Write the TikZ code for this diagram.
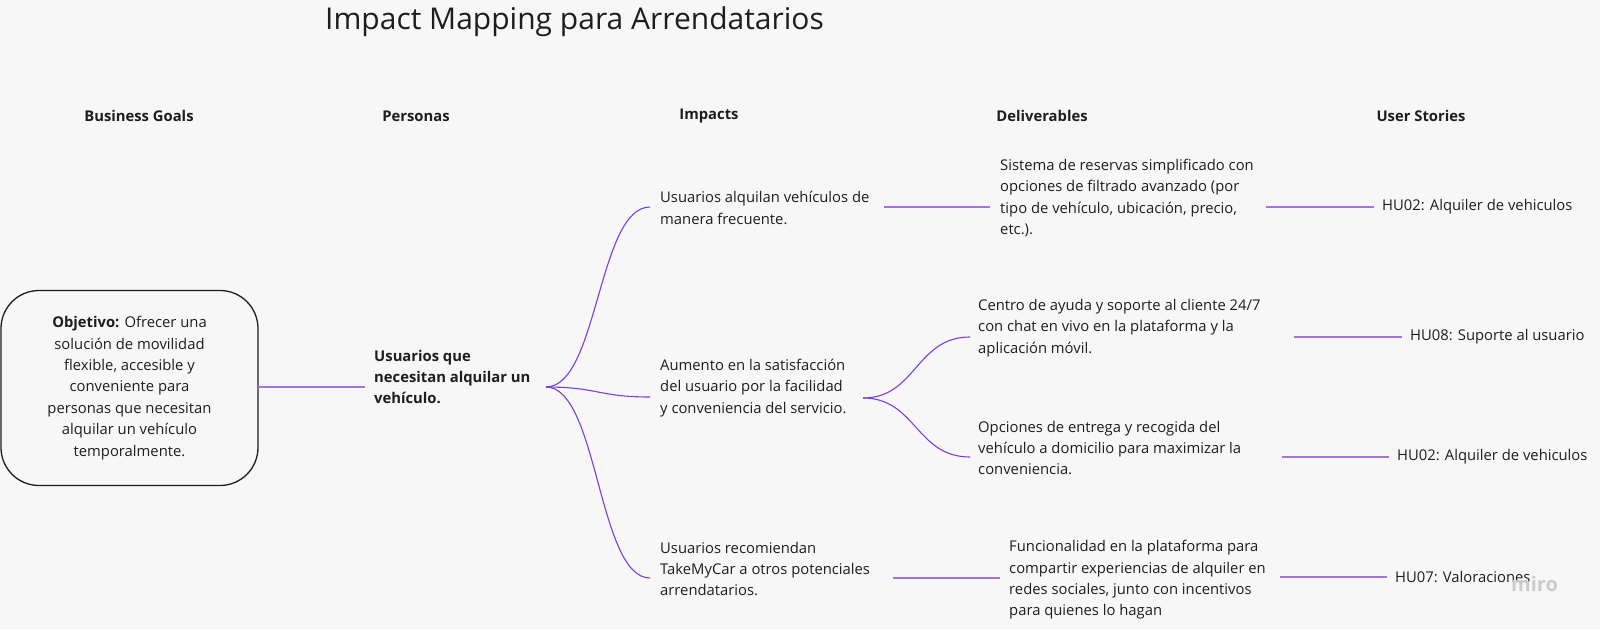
\documentclass[tikz,border=0pt]{standalone}
\usepackage{fontspec}
\setmainfont{Open Sans}
\usepackage{xcolor}
\usetikzlibrary{positioning}
\definecolor{bg}{HTML}{F7F7F7}
\definecolor{ink}{HTML}{1E1E1E}
\definecolor{branch}{HTML}{7A3FE0}
\definecolor{linkc}{HTML}{A472E2}
\tikzset{%
  goal/.style    = {draw=ink, line width=1.3pt, rounded corners=38pt,
    minimum width=257pt, minimum height=195pt, align=center, inner sep=0pt,
    text=ink, font=\fontsize{14.8}{21.4}\selectfont},
  head/.style    = {text=ink, inner sep=0pt, font=\fontsize{14.8}{18}\selectfont\bfseries}, % Column title
  item/.style    = {anchor=west, align=left, inner sep=0pt, text=ink,
    font=\fontsize{14.8}{21.4}\selectfont}, % Map entry
  curve/.style   = {draw=branch, line width=1.1pt}, % Branch
  link/.style    = {draw=linkc, line width=1.8pt} % Straight link
}

\begin{document}
\begin{tikzpicture}[x=1pt, y=-1pt]
  \fill[bg] (0,0) rectangle (1600,629);
  \useasboundingbox (0,0) rectangle (1600,629);

  \node[anchor=west, inner sep=0pt, text=ink, font=\fontsize{30}{36}\selectfont] (title)
    at (325,22) {Impact Mapping para Arrendatarios};

  % column titles
  \node[head] (hgoals) at (139,116) {Business Goals};
  \node[head] (hpers)  at (416,116) {Personas};
  \node[head] (himp)   at (709,116) {Impacts};
  \node[head] (hdel)   at (1042,116) {Deliverables};
  \node[head] (hus)    at (1421,116) {User Stories};

  % goal and persona
  \node[goal] (goal) at (129.5,388) {\textbf{Objetivo:} Ofrecer una\\solución de movilidad\\flexible, accesible y\\conveniente para\\personas que necesitan\\alquilar un vehículo\\temporalmente.};
  \node[item, font=\fontsize{14.8}{21.4}\selectfont\bfseries] (pers) at (374,377) {Usuarios que\\necesitan alquilar un\\vehículo.};

  % impacts
  \node[item] (imp1) at (660,208) {Usuarios alquilan vehículos de\\manera frecuente.};
  \node[item] (imp2) at (660,388) {Aumento en la satisfacción\\del usuario por la facilidad\\y conveniencia del servicio.};
  \node[item] (imp3) at (660,569) {Usuarios recomiendan\\TakeMyCar a otros potenciales\\arrendatarios.};

  % deliverables
  \node[item] (del1)  at (1000,198) {Sistema de reservas simplificado con\\opciones de filtrado avanzado (por\\tipo de vehículo, ubicación, precio,\\etc.).};
  \node[item] (del2a) at (978,328) {Centro de ayuda y soporte al cliente 24/7\\con chat en vivo en la plataforma y la\\aplicación móvil.};
  \node[item] (del2b) at (978,448) {Opciones de entrega y recogida del\\vehículo a domicilio para maximizar la\\conveniencia.};
  \node[item] (del3)  at (1009,580) {Funcionalidad en la plataforma para\\compartir experiencias de alquiler en\\redes sociales, junto con incentivos\\para quienes lo hagan};

  % user stories
  \node[item] (us1)  at (1382,207) {HU02: Alquiler de vehiculos};
  \node[item] (us2a) at (1410,337) {HU08: Suporte al usuario};
  \node[item] (us2b) at (1397,457) {HU02: Alquiler de vehiculos};
  \node[item] (us3)  at (1395,577) {HU07: Valoraciones};

  \node[anchor=west, inner sep=0pt, text=black!20, font=\fontsize{20}{24}\selectfont\bfseries] (wm) at (1511,584) {miro};

  % connection points
  \coordinate (gout)  at (258,387);
  \coordinate (pin)   at (365,387);
  \coordinate (pout)  at (546,387);
  \coordinate (i1in)  at (650,207);
  \coordinate (i2in)  at (650,397);
  \coordinate (i3in)  at (650,578);
  \coordinate (i1out) at (884,207);
  \coordinate (d1in)  at (990,207);
  \coordinate (i2out) at (863,398);
  \coordinate (d2ain) at (970,337);
  \coordinate (d2bin) at (970,457);
  \coordinate (i3out) at (893,578);
  \coordinate (d3in)  at (1000,578);
  \coordinate (d1out) at (1266,207);
  \coordinate (u1in)  at (1374,207);
  \coordinate (d2aout) at (1294,337);
  \coordinate (u2ain) at (1402,337);
  \coordinate (d2bout) at (1282,457);
  \coordinate (u2bin) at (1389,457);
  \coordinate (d3out) at (1280,577);
  \coordinate (u3in)  at (1387,577);

  % links
  \draw[link] (gout) -- (pin);
  \draw[curve] (pout) .. controls (598,387) and (598,207) .. (i1in);
  \draw[curve] (pout) .. controls (598,387) and (598,397) .. (i2in);
  \draw[curve] (pout) .. controls (598,387) and (598,578) .. (i3in);
  \draw[link] (i1out) -- (d1in);
  \draw[curve] (i2out) .. controls (916,398) and (916,337) .. (d2ain);
  \draw[curve] (i2out) .. controls (916,398) and (916,457) .. (d2bin);
  \draw[link] (i3out) -- (d3in);
  \draw[link] (d1out) -- (u1in);
  \draw[link] (d2aout) -- (u2ain);
  \draw[link] (d2bout) -- (u2bin);
  \draw[link] (d3out) -- (u3in);
\end{tikzpicture}
\end{document}
